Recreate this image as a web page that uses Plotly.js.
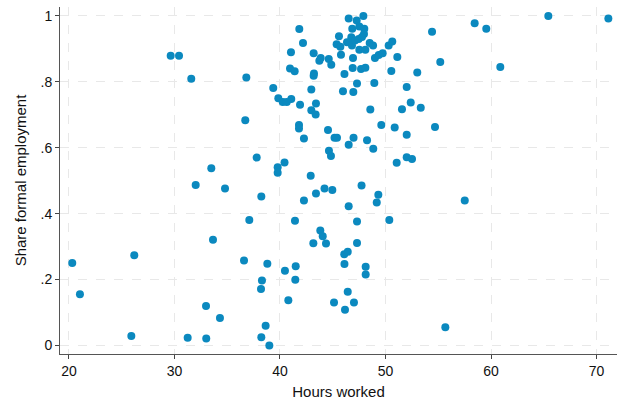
<!DOCTYPE html>
<html>
<head>
<meta charset="utf-8">
<script src="https://cdn.plot.ly/plotly-3.0.1.min.js"></script>
<style>html,body{margin:0;padding:0;background:#fff;}#chart{width:618px;height:403px;}</style>
</head>
<body>
<div id="chart"></div>
<script>
const hoursWorked = [
  20.31, 21.04, 25.91, 26.19, 29.64, 30.43, 31.59, 31.25, 32.01, 32.99,
  33.01, 33.49, 33.65, 34.31, 34.79, 36.59, 36.71, 36.81, 37.09, 37.79,
  38.23, 38.20, 38.29, 38.64, 38.23, 38.80, 38.99, 39.36, 39.84, 40.26,
  40.64, 41.07, 39.78, 39.78, 40.43, 40.47, 40.79, 40.95, 41.39, 41.04,
  41.42, 41.49, 41.45, 41.83, 42.18, 41.90, 41.80, 41.80, 42.27, 42.27,
  42.91, 42.97, 42.97, 43.19, 43.22, 43.19, 43.41, 43.38, 43.41, 43.16,
  43.82, 44.05, 43.73, 43.86, 44.62, 44.86, 44.22, 44.96, 44.36, 44.55,
  44.64, 44.83, 45.17, 45.40, 45.12, 46.09, 46.42, 46.11, 46.16, 46.42,
  46.51, 46.51, 46.97, 47.30, 45.97, 46.95, 46.11, 46.89, 47.68, 48.09,
  45.78, 46.92, 47.01, 47.30, 47.30, 47.73, 48.12, 48.12, 48.25, 48.56,
  48.84, 48.94, 49.00, 49.36, 49.73, 49.17, 49.32, 49.60, 50.30, 50.64,
  50.36, 50.55, 50.87, 51.06, 51.12, 51.56, 52.01, 52.01, 52.01, 52.39,
  52.51, 53.01, 53.34, 54.41, 54.69, 55.19, 55.67, 57.51, 58.45, 59.55,
  60.88, 65.43, 71.12, 46.51, 47.27, 47.90, 46.85, 47.52, 47.99, 45.59,
  46.76, 47.96, 45.37, 45.72, 46.35, 46.70, 46.82, 47.11, 47.46, 47.77,
  47.52, 48.09, 48.50, 48.82
];
const shareFormal = [
  0.250, 0.155, 0.029, 0.274, 0.879, 0.879, 0.809, 0.023, 0.487, 0.120,
  0.021, 0.538, 0.321, 0.083, 0.476, 0.258, 0.683, 0.813, 0.381, 0.570,
  0.452, 0.171, 0.197, 0.060, 0.025, 0.248, 0.000, 0.781, 0.750, 0.739,
  0.739, 0.748, 0.541, 0.524, 0.555, 0.227, 0.137, 0.840, 0.832, 0.890,
  0.378, 0.240, 0.199, 0.960, 0.918, 0.730, 0.669, 0.658, 0.628, 0.440,
  0.515, 0.777, 0.714, 0.887, 0.825, 0.818, 0.734, 0.701, 0.461, 0.310,
  0.349, 0.331, 0.864, 0.872, 0.869, 0.852, 0.476, 0.472, 0.309, 0.654,
  0.591, 0.575, 0.630, 0.630, 0.130, 0.277, 0.284, 0.247, 0.108, 0.163,
  0.609, 0.422, 0.630, 0.795, 0.771, 0.769, 0.824, 0.842, 0.839, 0.843,
  0.882, 0.872, 0.130, 0.376, 0.311, 0.485, 0.239, 0.215, 0.623, 0.716,
  0.597, 0.796, 0.872, 0.881, 0.887, 0.434, 0.457, 0.669, 0.910, 0.922,
  0.381, 0.833, 0.661, 0.554, 0.875, 0.717, 0.784, 0.639, 0.571, 0.737,
  0.566, 0.828, 0.721, 0.952, 0.663, 0.860, 0.055, 0.440, 0.978, 0.961,
  0.845, 1.000, 0.992, 0.992, 0.986, 1.000, 0.961, 0.968, 0.961, 0.938,
  0.935, 0.945, 0.914, 0.906, 0.920, 0.922, 0.910, 0.925, 0.930, 0.936,
  0.897, 0.897, 0.918, 0.910
];
const xTicks = [20, 30, 40, 50, 60, 70];
const xTickLabels = ["20", "30", "40", "50", "60", "70"];
const yTicks = [0, 0.2, 0.4, 0.6, 0.8, 1];
const yTickLabels = ["0", ".2", ".4", ".6", ".8", "1"];

const font = {family: "Liberation Sans, Arial, Helvetica, sans-serif", size: 14, color: "#111"};
const titleFont = {family: "Liberation Sans, Arial, Helvetica, sans-serif", size: 15, color: "#111"};

const trace = {
  type: "scatter",
  mode: "markers",
  x: hoursWorked,
  y: shareFormal,
  marker: {color: "#0b89bf", size: 8, line: {width: 0}},
  hoverinfo: "x+y"
};

const layout = {
  width: 618,
  height: 403,
  margin: {l: 60, r: 1, t: 7, b: 49},
  paper_bgcolor: "#ffffff",
  plot_bgcolor: "#ffffff",
  font: font,
  showlegend: false,
  xaxis: {
    range: [19.15, 71.94],
    tickmode: "array",
    tickvals: xTicks,
    ticktext: xTickLabels,
    ticks: "outside",
    ticklen: 4,
    tickcolor: "#444",
    showline: true,
    linecolor: "#555",
    linewidth: 1,
    showgrid: true,
    gridcolor: "#e8e8e8",
    griddash: "dash",
    gridwidth: 1,
    zeroline: false,
    tickfont: font,
    title: {text: "Hours worked", font: titleFont, standoff: 8}
  },
  yaxis: {
    range: [-0.026, 1.027],
    tickmode: "array",
    tickvals: yTicks,
    ticktext: yTickLabels,
    ticks: "outside",
    ticklen: 4,
    tickcolor: "#444",
    showline: true,
    linecolor: "#555",
    linewidth: 1,
    showgrid: true,
    gridcolor: "#e8e8e8",
    griddash: "dash",
    gridwidth: 1,
    zeroline: false,
    tickfont: font,
    title: {text: "Share formal employment", font: titleFont, standoff: 10}
  }
};

Plotly.newPlot("chart", [trace], layout, {displayModeBar: false, staticPlot: true});
</script>
</body>
</html>
